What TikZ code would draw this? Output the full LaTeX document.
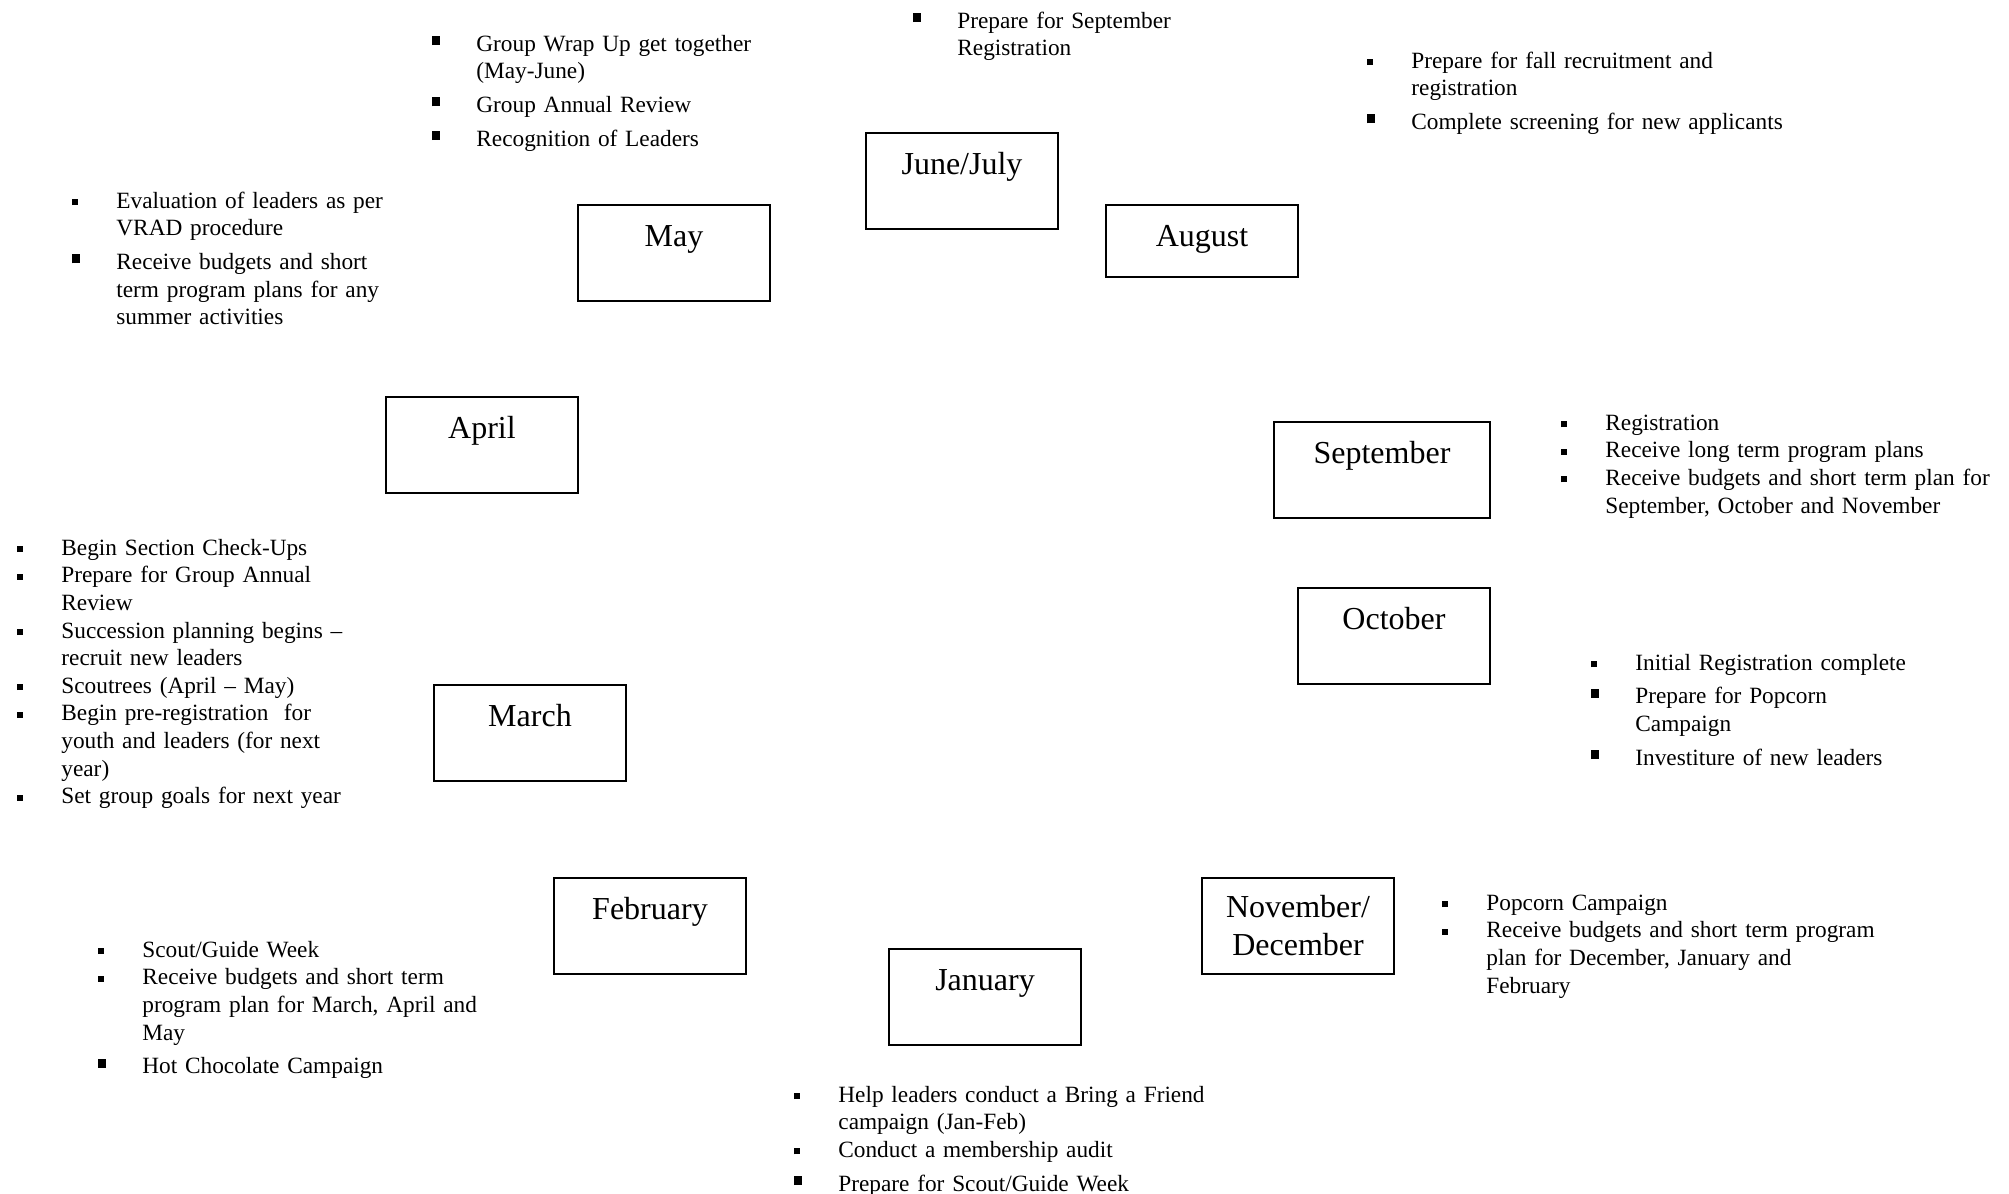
\documentclass[tikz,border=0pt]{standalone}
\usepackage{fontspec}
\setmainfont{Liberation Serif}
\def\smallbul{\rule[1.5pt]{3pt}{3pt}}
\def\bigbul{\rule[3pt]{4pt}{4.5pt}}
\def\notegap{\vspace{3pt}}
\def\nl{\hfil\break}
\newcommand{\monthnote}[2]{\noindent\hangindent=22pt\hangafter=1\makebox[22pt][l]{#1}\strut#2\par}

\begin{document}
\begin{tikzpicture}[x=0.5pt,y=-0.5pt,
  month/.style={draw,line width=0.8pt,minimum width=96pt,minimum height=48pt,inner sep=0pt,align=center,font=\fontsize{16}{19}\selectfont},
  oneline/.style={text height=11pt,text depth=18pt},
  notes/.style={anchor=north west,inner sep=0pt,text width=320pt,align=left,font=\fontsize{11.65}{13.8}\selectfont}]

\useasboundingbox (0,0) rectangle (2009,1194);

% Draw the month boxes...
\node (junjul) at (962,181) [month,oneline] {June/July};
\node (may) at (674,253) [month,oneline] {May};
\node (aug) at (1202,241) [month,minimum height=36pt,text height=11pt,text depth=6pt] {August};
\node (apr) at (482,445) [month,oneline] {April};
\node (sep) at (1382,470) [month,oneline,minimum width=108pt] {September};
\node (oct) at (1394,636) [month,oneline] {October};
\node (mar) at (530,733) [month,oneline] {March};
\node (feb) at (650,926) [month,oneline] {February};
\node (jan) at (985,997) [month,oneline] {January};
\node (novdec) at (1298,926) [month] {November/\\December};

% Draw the notes...
\node (maynotes) at (432,31.5) [notes] {\monthnote\bigbul{Group Wrap Up get together\nl(May-June)}\notegap
  \monthnote\bigbul{Group Annual Review}\notegap
  \monthnote\bigbul{Recognition of Leaders}};
\node (junnotes) at (913,8.5) [notes] {\monthnote\bigbul{Prepare for September\nl Registration}};
\node (augnotes) at (1367,48.5) [notes] {\monthnote\smallbul{Prepare for fall recruitment and\nl registration}\notegap
  \monthnote\bigbul{Complete screening for new applicants}};
\node (aprnotes) at (72,188.5) [notes] {\monthnote\smallbul{Evaluation of leaders as per\nl VRAD procedure}\notegap
  \monthnote\bigbul{Receive budgets and short\nl term program plans for any\nl summer activities}};
\node (marnotes) at (17,535.5) [notes] {\monthnote\smallbul{Begin Section Check-Ups}
  \monthnote\smallbul{Prepare for Group Annual\nl Review}
  \monthnote\smallbul{Succession planning begins --\nl recruit new leaders}
  \monthnote\smallbul{Scoutrees (April -- May)}
  \monthnote\smallbul{Begin pre-registration~ for\nl youth and leaders (for next\nl year)}
  \monthnote\smallbul{Set group goals for next year}};
\node (sepnotes) at (1561,410.5) [notes] {\monthnote\smallbul{Registration}
  \monthnote\smallbul{Receive long term program plans}
  \monthnote\smallbul{Receive budgets and short term plan for\nl September, October and November}};
\node (octnotes) at (1591,650.5) [notes] {\monthnote\smallbul{Initial Registration complete}\notegap
  \monthnote\bigbul{Prepare for Popcorn\nl Campaign}\notegap
  \monthnote\bigbul{Investiture of new leaders}};
\node (novnotes) at (1442,890.5) [notes] {\monthnote\smallbul{Popcorn Campaign}
  \monthnote\smallbul{Receive budgets and short term program\nl plan for December, January and\nl February}};
\node (febnotes) at (98,937.5) [notes] {\monthnote\smallbul{Scout/Guide Week}
  \monthnote\smallbul{Receive budgets and short term\nl program plan for March, April and\nl May}\notegap
  \monthnote\bigbul{Hot Chocolate Campaign}};
\node (jannotes) at (794,1082.5) [notes] {\monthnote\smallbul{Help leaders conduct a Bring a Friend\nl campaign (Jan-Feb)}
  \monthnote\smallbul{Conduct a membership audit}\notegap
  \monthnote\bigbul{Prepare for Scout/Guide Week}};

\end{tikzpicture}
\end{document}
